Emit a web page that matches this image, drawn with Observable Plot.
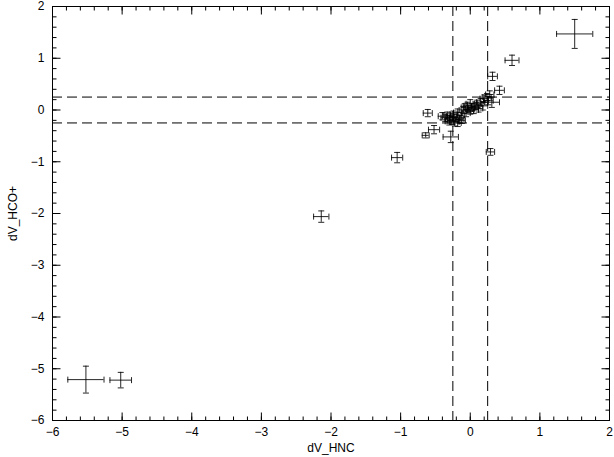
<!DOCTYPE html>
<html><head><meta charset="utf-8">
<script src="https://cdn.jsdelivr.net/npm/d3@7"></script>
<script src="https://cdn.jsdelivr.net/npm/@observablehq/plot@0.6"></script>
<style>body{margin:0;background:#fff;} svg{display:block;}</style>
</head><body><div id="chart"></div>
<script>
const dvHNC  = [1.50, 0.60, 0.32, 0.42, -0.61, -0.52, -0.64, -0.28, 0.29, -1.05, -2.14, -5.52, -5.02,
  -0.40, -0.36, -0.33, -0.30, -0.28, -0.26, -0.24, -0.22, -0.20, -0.18, -0.15, -0.13, -0.10, -0.08, -0.06, -0.04, -0.02, 0.00, 0.02, 0.05, 0.08, 0.12, 0.15, 0.18, 0.20, 0.24, 0.26, 0.28, 0.31, -0.30, -0.18, -0.12, 0.00, 0.10];
const dvHCO  = [1.47, 0.96, 0.65, 0.38, -0.06, -0.38, -0.49, -0.52, -0.81, -0.92, -2.06, -5.21, -5.22,
  -0.12, -0.15, -0.10, -0.18, -0.13, -0.20, -0.08, -0.23, -0.15, -0.05, -0.18, -0.10, 0.00, 0.05, -0.06, 0.08, 0.02, 0.12, 0.05, 0.00, 0.08, 0.03, 0.15, 0.08, 0.22, 0.25, 0.18, 0.30, 0.15, -0.22, -0.25, -0.20, -0.02, 0.12];
const errHNC = [0.26, 0.10, 0.07, 0.07, 0.065, 0.08, 0.05, 0.11, 0.06, 0.08, 0.11, 0.26, 0.155,
  0.06, 0.06, 0.05, 0.06, 0.05, 0.07, 0.05, 0.06, 0.05, 0.06, 0.06, 0.05, 0.06, 0.05, 0.06, 0.06, 0.05, 0.06, 0.06, 0.07, 0.06, 0.06, 0.06, 0.07, 0.06, 0.06, 0.07, 0.06, 0.11, 0.06, 0.05, 0.05, 0.05, 0.06];
const errHCO = [0.28, 0.10, 0.08, 0.08, 0.07, 0.08, 0.05, 0.11, 0.065, 0.10, 0.11, 0.26, 0.15,
  0.07, 0.07, 0.06, 0.07, 0.07, 0.08, 0.06, 0.08, 0.07, 0.07, 0.07, 0.06, 0.07, 0.07, 0.07, 0.07, 0.06, 0.08, 0.07, 0.07, 0.07, 0.07, 0.07, 0.08, 0.07, 0.07, 0.08, 0.07, 0.10, 0.07, 0.07, 0.06, 0.06, 0.07];
const xMajor = [-6, -5, -4, -3, -2, -1, 0, 1, 2];
const yMajor = [-6, -5, -4, -3, -2, -1, 0, 1, 2];
const xMinor = d3.range(-60, 21, 2).map(v => v / 10);
const yMinor = d3.range(-60, 21, 2).map(v => v / 10);
const limits = [-0.25, 0.25];

const data = dvHNC.map((x, i) => ({x, y: dvHCO[i], xe: errHNC[i], ye: errHCO[i]}));

const line = (dx, dy) => ({draw(ctx, size) { const r = Math.sqrt(size / Math.PI); ctx.moveTo(-dx * r, -dy * r); ctx.lineTo(dx * r, dy * r); }});
const seg = (dx, dy) => ({draw(ctx, size) { const r = Math.sqrt(size / Math.PI); ctx.moveTo(0, 0); ctx.lineTo(dx * r, dy * r); }});
const vcap = line(0, 1), hcap = line(1, 0);
const up = seg(0, -1), down = seg(0, 1), right = seg(1, 0), left = seg(-1, 0);
const tk = {stroke: "black", strokeWidth: 1, fill: "none"};

const chart = Plot.plot({
  width: 614, height: 457,
  marginLeft: 52, marginRight: 5, marginTop: 6, marginBottom: 37,
  style: {fontFamily: "'Liberation Sans', sans-serif", fontSize: "12px", color: "black", background: "white"},
  x: {domain: [-6, 2]},
  y: {domain: [-6, 2]},
  marks: [
    Plot.ruleX(limits, {stroke: "black", strokeDasharray: "10,5"}),
    Plot.ruleY(limits, {stroke: "black", strokeDasharray: "10,5"}),
    Plot.ruleY(data, {y: "y", x1: d => d.x - d.xe, x2: d => d.x + d.xe, stroke: "black", strokeOpacity: 0.85}),
    Plot.ruleX(data, {x: "x", y1: d => d.y - d.ye, y2: d => d.y + d.ye, stroke: "black", strokeOpacity: 0.85}),
    Plot.dot(data, {x: d => d.x - d.xe, y: "y", symbol: vcap, r: 3, ...tk, strokeOpacity: 0.85}),
    Plot.dot(data, {x: d => d.x + d.xe, y: "y", symbol: vcap, r: 3, ...tk, strokeOpacity: 0.85}),
    Plot.dot(data, {x: "x", y: d => d.y - d.ye, symbol: hcap, r: 3, ...tk, strokeOpacity: 0.85}),
    Plot.dot(data, {x: "x", y: d => d.y + d.ye, symbol: hcap, r: 3, ...tk, strokeOpacity: 0.85}),
    Plot.dot(xMajor, {x: d => d, frameAnchor: "bottom", symbol: up, r: 8, ...tk}),
    Plot.dot(xMinor, {x: d => d, frameAnchor: "bottom", symbol: up, r: 4, ...tk}),
    Plot.dot(xMajor, {x: d => d, frameAnchor: "top", symbol: down, r: 8, ...tk}),
    Plot.dot(xMinor, {x: d => d, frameAnchor: "top", symbol: down, r: 4, ...tk}),
    Plot.dot(yMajor, {y: d => d, frameAnchor: "left", symbol: right, r: 8, ...tk}),
    Plot.dot(yMinor, {y: d => d, frameAnchor: "left", symbol: right, r: 4, ...tk}),
    Plot.dot(yMajor, {y: d => d, frameAnchor: "right", symbol: left, r: 8, ...tk}),
    Plot.dot(yMinor, {y: d => d, frameAnchor: "right", symbol: left, r: 4, ...tk}),
    Plot.axisX({ticks: xMajor, tickSize: 0, tickPadding: 7, label: "dV_HNC", labelAnchor: "center", labelArrow: "none", labelOffset: 31, fontSize: 12}),
    Plot.axisY({ticks: yMajor, tickSize: 0, tickPadding: 8, label: "dV_HCO+", labelAnchor: "center", labelArrow: "none", labelOffset: 44, fontSize: 12}),
    Plot.frame({stroke: "black"})
  ]
});
document.getElementById("chart").append(chart);
</script></body></html>
